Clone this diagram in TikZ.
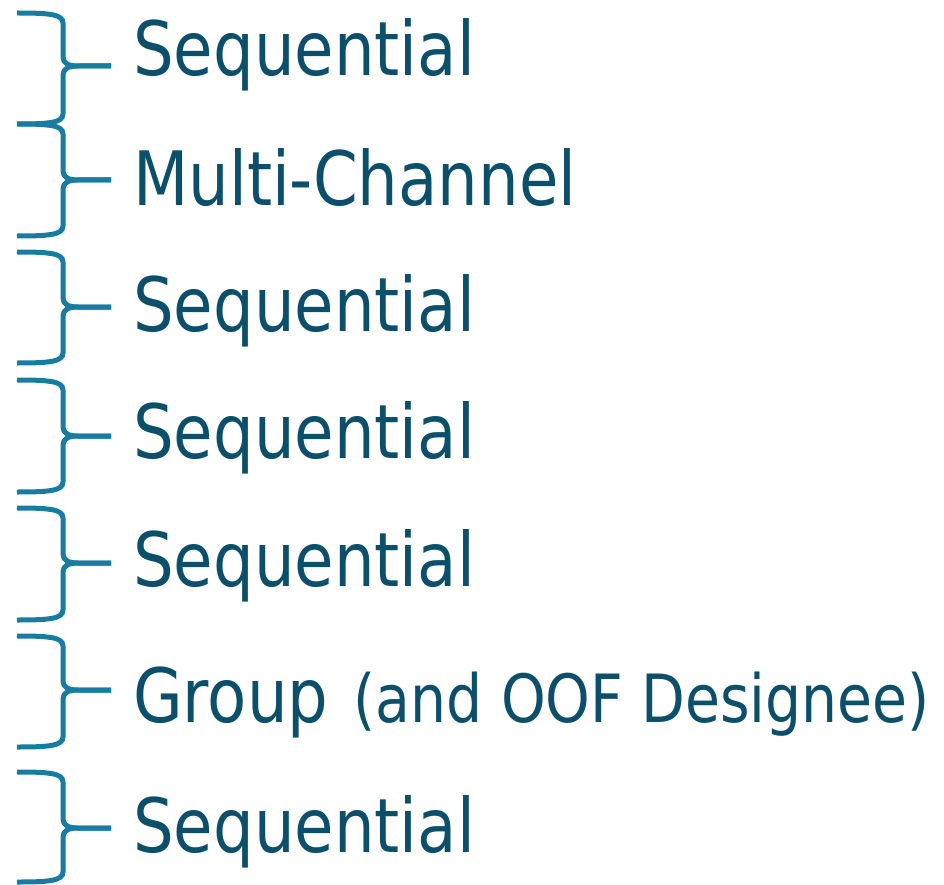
\documentclass[tikz,border=0pt]{standalone}
\usepackage{fontspec}
\newfontfamily\tahfont[FakeStretch=0.855]{DejaVu Sans}
\definecolor{bracecol}{HTML}{177C9F}
\definecolor{textcol}{HTML}{0B4F6B}
\newcommand\bracepath[4]{% name, top, mid, bottom
  \coordinate (#1tip) at (111,#3);
  \draw[bracestyle] (17,#2) .. controls (48,#2) and (63,#2+1) .. (63,#2+10)
    -- (63,#3-9) .. controls (63,#3-3) and (68,#3) .. (78,#3) -- (#1tip);
  \draw[bracestyle] (#1tip) -- (78,#3) .. controls (68,#3) and (63,#3+3) .. (63,#3+9)
    -- (63,#4-10) .. controls (63,#4-1) and (48,#4) .. (17,#4);
}
\begin{document}
\begin{tikzpicture}[x=1pt,y=-1pt,
  bracestyle/.style={draw=bracecol,line width=5pt,line join=round},
  bigtext/.style={anchor=base west,inner sep=0pt,text=textcol,font=\tahfont\fontsize{75}{80}\selectfont}]
\useasboundingbox (0,0) rectangle (944,885);
\bracepath{b1}{13}{66}{124}
\bracepath{b2}{124}{180}{236}
\bracepath{b3}{252}{307}{363}
\bracepath{b4}{380}{436}{492}
\bracepath{b5}{508}{563}{620}
\bracepath{b6}{636}{690}{747}
\bracepath{b7}{772}{828}{882}
\node[bigtext] (t1) at (133,76) {Sequential};
\node[bigtext] (t2) at (133,206) {Multi-Channel};
\node[bigtext] (t3) at (133,331) {Sequential};
\node[bigtext] (t4) at (133,458) {Sequential};
\node[bigtext] (t5) at (133,586) {Sequential};
\node[bigtext] (t6) at (133,722) {Group\hspace{5pt} {\fontsize{66.5}{70}\selectfont (and OOF Designee)}};
\node[bigtext] (t7) at (133,852) {Sequential};
\end{tikzpicture}
\end{document}
